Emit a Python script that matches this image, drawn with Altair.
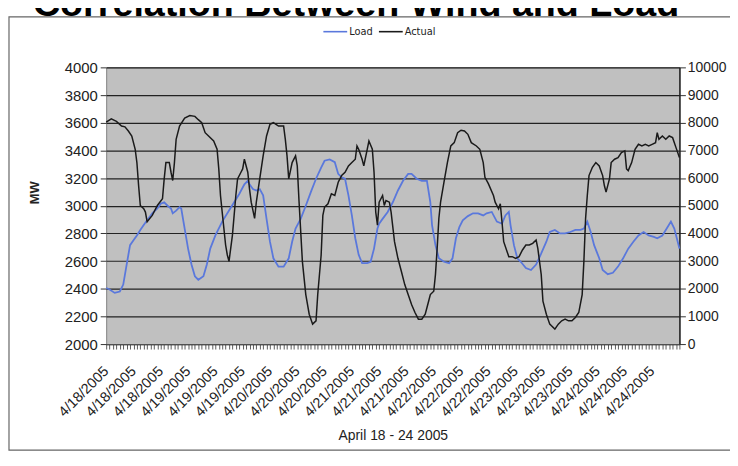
import altair as alt
import pandas as pd

# ---------------- data ----------------
chart_title = "Correlation Between Wind and Load"
x_title = "April 18 - 24 2005"
y_title = "MW"
series_names = ["Load", "Actual"]
series_colors = ["#5a78dc", "#1a1a1a"]

left_ticks = list(range(2000, 4001, 200))
right_ticks = list(range(0, 10001, 1000))
hour_ticks = list(range(0, 169))

# hours after 4/18/2005 00:00
load_hours = [0, 1, 2.5, 4, 5, 6, 7, 8, 9, 10, 11, 12, 13.5, 15, 16, 17, 18, 19, 19.5, 20.5,
              21.5, 22, 23, 24, 25, 26, 27, 28.5, 29.5, 30.5, 32, 34, 36, 37.5, 39, 40.5, 41.5, 42, 43, 44,
              45, 46, 47, 48, 49, 50.5, 52, 53.5, 54.5, 55.5, 57, 58.5, 60, 61.5, 63, 64, 65.5, 67, 68, 69,
              70, 71, 72, 73, 74, 75, 76.5, 77.5, 78.5, 79.5, 80, 81, 82.5, 84, 85.5, 87, 88.5, 89.5, 91, 92.5,
              94, 95, 95.5, 96.5, 97.5, 99, 100.5, 101.5, 102.5, 103.5, 104.5, 106, 107.5, 109, 110.5, 111.5, 113, 114.5, 116, 117,
              118, 118.5, 119.5, 120.5, 121.5, 123, 124.5, 126, 127.5, 129, 130, 131.5, 133, 134.5, 136, 137.5, 139, 140, 141, 142,
              143, 144.5, 145.5, 147, 148.5, 150, 151.5, 153, 154.5, 156, 157.5, 159, 160.5, 161.5, 163, 164.5, 165.5, 166.5, 167.5, 168]
load_mw = [2405, 2395, 2370, 2380, 2430, 2575, 2715, 2750, 2785, 2825, 2860, 2895, 2945, 2980, 3015, 3025, 3000, 2980, 2945, 2965,
           2990, 2980, 2835, 2690, 2575, 2490, 2465, 2490, 2575, 2690, 2785, 2885, 2965, 3025, 3085, 3155, 3180, 3155, 3120, 3110,
           3120, 3075, 2905, 2740, 2620, 2560, 2560, 2620, 2740, 2835, 2905, 3000, 3100, 3195, 3275, 3325, 3335, 3315, 3230, 3205,
           3195, 3075, 2930, 2765, 2645, 2585, 2585, 2595, 2690, 2835, 2870, 2905, 2955, 3025, 3110, 3180, 3230, 3230, 3195, 3180,
           3180, 3025, 2860, 2715, 2620, 2595, 2585, 2620, 2765, 2845, 2895, 2925, 2945, 2945, 2930, 2945, 2955, 2885, 2870, 2930,
           2955, 2860, 2715, 2620, 2595, 2550, 2535, 2575, 2655, 2740, 2810, 2825, 2800, 2800, 2810, 2825, 2825, 2835, 2885, 2810,
           2715, 2620, 2535, 2505, 2515, 2560, 2620, 2690, 2740, 2785, 2810, 2785, 2775, 2765, 2785, 2845, 2885, 2835, 2740, 2690]

actual_hours = [0, 1.5, 3, 4.5, 5.5, 6.5, 7.5, 8.5, 9, 9.5, 10, 11, 11.5, 12, 13.5, 15, 16.5, 17, 17.5, 18.5,
                19, 19.5, 20, 20.5, 21.5, 23, 24.5, 26, 27, 28, 29, 30, 31.5, 32.5, 33, 33.5, 34, 35, 35.5, 36,
                37, 38, 38.5, 39.5, 40, 40.5, 41.5, 42, 42.5, 43.5, 44, 45, 46, 47, 48, 49, 50.5, 52, 52.5, 53,
                53.5, 54.5, 55.5, 56, 56.5, 57.5, 58.5, 59.5, 60.5, 61.5, 62, 63, 63.5, 64, 65, 66, 67, 68, 69, 70,
                71, 72, 73, 73.5, 74, 75, 75.5, 76.5, 77, 78, 78.5, 79, 79.5, 80, 81, 81.5, 82, 83, 83.5, 84.5,
                85.5, 86.5, 87.5, 88.5, 89.5, 90.5, 91.5, 92.5, 93.5, 94.5, 95, 96, 96.5, 97, 97.5, 98, 99, 100, 101, 102,
                103, 104, 105, 106, 107, 108.5, 109.5, 110.5, 111, 112, 113.5, 114, 115, 115.5, 116, 116.5, 117.5, 118, 119, 120,
                121, 122, 123, 124, 125, 126, 126.5, 127.5, 128, 129, 130, 130.5, 131.5, 132.5, 133.5, 134.5, 135.5, 136.5, 137.5, 138.5,
                139.5, 140, 140.5, 141, 141.5, 142.5, 143.5, 144.5, 145.5, 146, 146.5, 147.5, 148, 149, 150, 151, 152, 152.5, 153, 154,
                155, 156, 157, 158, 159, 160, 161, 161.5, 162, 163, 164, 165, 166, 167, 168]
actual_mw = [8020, 8140, 8050, 7880, 7850, 7700, 7520, 7040, 6560, 5730, 5010, 4890, 4770, 4420, 4650, 5010, 5250, 5970, 6560, 6560,
             6210, 5910, 6560, 7400, 7880, 8170, 8260, 8230, 8110, 8000, 7640, 7520, 7340, 7040, 6330, 5370, 4770, 3580, 3220, 2990,
             3940, 5370, 5970, 6210, 6330, 6680, 6210, 5610, 5130, 4540, 5130, 5970, 6800, 7520, 7940, 8000, 7880, 7880, 7400, 6800,
             5970, 6560, 6800, 6440, 5200, 2990, 1790, 1080, 720, 840, 1790, 3220, 4650, 4950, 5070, 5430, 5370, 5850, 6090, 6210,
             6440, 6560, 6680, 7160, 7040, 6680, 6440, 7040, 7340, 7040, 6210, 4770, 4300, 5130, 5370, 5010, 5190, 5130, 4770, 3700,
             3100, 2630, 2150, 1790, 1430, 1140, 900, 900, 1080, 1550, 1790, 1910, 2510, 3460, 4540, 5130, 5850, 6560, 7160, 7280,
             7640, 7730, 7700, 7580, 7280, 7160, 7040, 6560, 6030, 5800, 5370, 5130, 4890, 5070, 4420, 3700, 3340, 3160, 3160, 3100,
             3160, 3400, 3580, 3580, 3640, 3760, 3460, 2510, 1550, 1080, 720, 660, 540, 720, 840, 900, 840, 840, 960, 1140,
             1790, 2990, 4540, 5370, 6090, 6390, 6560, 6440, 6090, 5730, 5490, 5970, 6560, 6680, 6740, 6920, 6980, 6330, 6270, 6560,
             7040, 7220, 7160, 7220, 7160, 7220, 7280, 7640, 7400, 7520, 7400, 7520, 7460, 7100, 6740]

load_df = pd.DataFrame({"hour": load_hours, "value": load_mw, "series": "Load"})
actual_df = pd.DataFrame({"hour": actual_hours, "value": actual_mw, "series": "Actual"})

FONT = "Liberation Sans, Arial, sans-serif"
NARROW = "Liberation Sans Narrow, DejaVu Sans Condensed, Liberation Sans, sans-serif"

color = alt.Color(
    "series:N",
    scale=alt.Scale(domain=series_names, range=series_colors),
    legend=alt.Legend(
        title=None, orient="none", legendX=218, legendY=-49, direction="horizontal",
        symbolType="stroke", symbolSize=576, symbolStrokeWidth=1.6,
        labelFont=NARROW, labelFontSize=11, labelColor="#222", labelOffset=1,
        columnPadding=2, padding=0,
    ),
)

x_enc = alt.X(
    "hour:Q",
    scale=alt.Scale(domain=[0, 168], nice=False, zero=False),
    axis=alt.Axis(
        values=hour_ticks,
        labelExpr="datum.value % 8 == 0 && datum.value < 168 ? '4/' + (18 + floor(datum.value / 24)) + '/2005' : ''",
        labelAngle=-45, labelAlign="right", labelBaseline="middle",
        labelOverlap=False, labelFlush=False, labelBound=False,
        labelPadding=20, labelFontSize=14.5,
        tickSize=5, tickWidth=0.8, grid=False, domain=True, domainColor="#555",
        title=x_title, titleX=289, titleY=92, titleAlign="center", titleBaseline="middle",
        titleFontSize=14, titleFontWeight="normal",
    ),
)

load_layer = alt.Chart(load_df).mark_line(strokeWidth=1.8, interpolate="linear").encode(
    x=x_enc,
    y=alt.Y(
        "value:Q",
        scale=alt.Scale(domain=[2000, 4000], nice=False, zero=False),
        axis=alt.Axis(
            orient="left", values=left_ticks, format="d", grid=True, gridColor="#222", gridWidth=1.2,
            tickSize=6, labelPadding=3, labelFontSize=15, domain=False,
            title=y_title, titleFontWeight="bold", titleFontSize=13, titleAngle=-90,
            titleX=-72, titleY=126, titleAlign="center", titleBaseline="middle",
        ),
    ),
    color=color,
)

actual_layer = alt.Chart(actual_df).mark_line(strokeWidth=1.5, interpolate="linear").encode(
    x=x_enc,
    y=alt.Y(
        "value:Q",
        scale=alt.Scale(domain=[0, 10000], nice=False, zero=True),
        axis=alt.Axis(
            orient="right", values=right_ticks, format="d", grid=False, tickSize=6, labelPadding=2,
            labelFontSize=14, domain=True, domainColor="#222", domainWidth=1.5, title=None,
        ),
    ),
    color=color,
)

frame = alt.Chart(pd.DataFrame({"k": [0]})).mark_rect(
    fillOpacity=0, stroke="#666", strokeWidth=1.2
).encode(x=alt.value(-98), x2=alt.value(640), y=alt.value(-51), y2=alt.value(386))

title_text = alt.Chart(pd.DataFrame({"t": [chart_title]})).mark_text(
    font=FONT, fontSize=38, fontWeight="bold", align="center", baseline="alphabetic", color="#000"
).encode(text="t:N", x=alt.value(252), y=alt.value(-52))

chart = (
    alt.layer(frame, title_text, load_layer, actual_layer)
    .resolve_scale(y="independent")
    .properties(
        width=578, height=279,
        autosize=alt.AutoSizeParams(type="none"),
        padding={"left": 99, "top": 58, "right": 51, "bottom": 113},
        background="white",
    )
    .configure_view(fill="#c0c0c0", stroke="#808080", strokeWidth=1)
    .configure_axis(
        labelFont=FONT, titleFont=FONT, labelColor="#222", titleColor="#222",
        tickColor="#333",
    )
)

chart.save("out.html", embed_options={"renderer": "svg", "actions": False})
